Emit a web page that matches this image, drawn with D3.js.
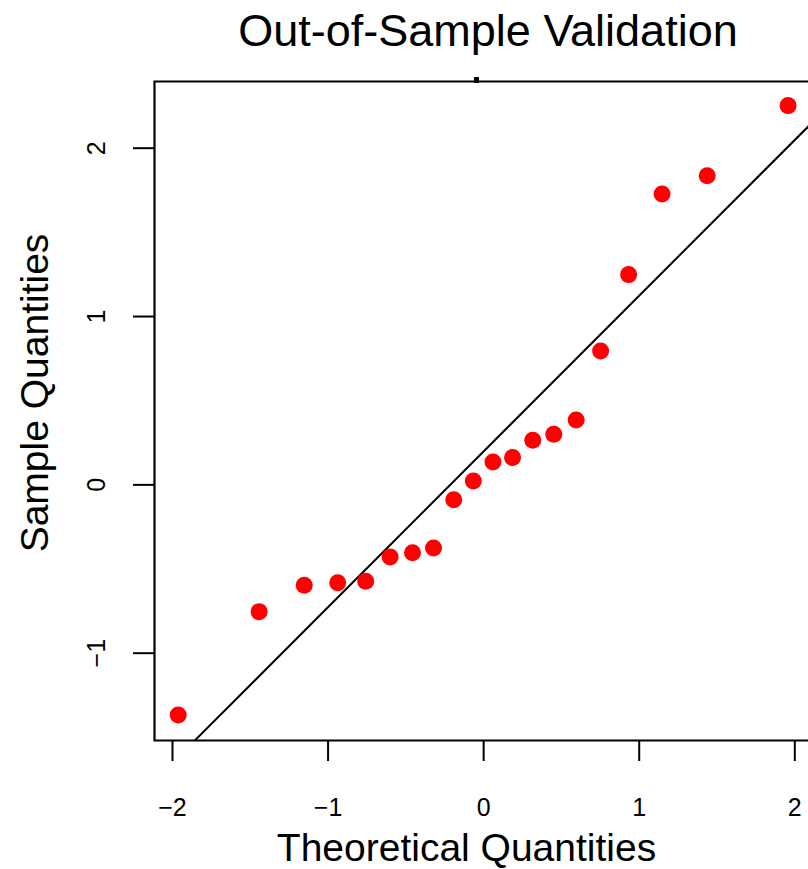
<!DOCTYPE html>
<html>
<head>
<meta charset="utf-8">
<script src="https://cdn.jsdelivr.net/npm/d3@7"></script>
<style>
  body { margin: 0; background: #fff; }
  text { font-family: "Liberation Sans", Arial, Helvetica, sans-serif; fill: #000; }
</style>
</head>
<body>
<svg id="chart" width="808" height="869"></svg>
<script>
// theoretical normal quantiles (n = 20) and the sample values
var theoretical = [-1.960, -1.440, -1.150, -0.935, -0.755, -0.598, -0.454, -0.319, -0.189, -0.063,
                    0.063,  0.189,  0.319,  0.454,  0.598,  0.755,  0.935,  1.150,  1.440,  1.960]
var sample = [-1.370, -0.756, -0.599, -0.584, -0.576, -0.431, -0.406, -0.378, -0.092, 0.020,
               0.133,  0.159,  0.262,  0.298,  0.383,  0.792,  1.246,  1.725,  1.834, 2.250]
var xTicks = [-2, -1, 0, 1, 2]
var yTicks = [-1, 0, 1, 2]
// reference line: mean + sd * x
var lineIntercept = 0.193
var lineSlope = 0.925
var TITLE = "Out-of-Sample Validation"
var X_LABEL = "Theoretical Quantities"
var Y_LABEL = "Sample Quantities"

var svg = d3.select("#chart")
var box = {left: 154.5, top: 81.5, bottom: 740.5, right: 830}

var x = d3.scaleLinear().domain([-2, 2]).range([172, 794.3])
var y = d3.scaleLinear().domain([-1, 2]).range([652.7, 147.7])

svg.append("defs").append("clipPath").attr("id", "plotclip")
    .append("rect")
    .attr("x", box.left).attr("y", box.top)
    .attr("width", box.right - box.left).attr("height", box.bottom - box.top)

// reference line
var x0 = x.invert(box.left), x1 = x.invert(box.right)
svg.append("line")
    .attr("clip-path", "url(#plotclip)")
    .attr("x1", x(x0)).attr("y1", y(lineIntercept + lineSlope * x0))
    .attr("x2", x(x1)).attr("y2", y(lineIntercept + lineSlope * x1))
    .attr("stroke", "#000").attr("stroke-width", 2)

// points
svg.append("g").selectAll("circle")
    .data(d3.zip(theoretical, sample))
    .join("circle")
    .attr("cx", d => x(d[0]))
    .attr("cy", d => y(d[1]))
    .attr("r", 8.5)
    .attr("fill", "#ff0000")

// box (open on the right, it runs off the picture)
svg.append("path")
    .attr("d", "M" + box.right + "," + box.top + "H" + box.left + "V" + box.bottom + "H" + box.right)
    .attr("fill", "none").attr("stroke", "#000").attr("stroke-width", 2.2)

// little mark on the top border
svg.append("rect").attr("x", 474).attr("y", 77).attr("width", 5).attr("height", 6).attr("fill", "#000")

// x axis
var xAxis = svg.append("g").attr("transform", "translate(0," + box.bottom + ")")
    .call(d3.axisBottom(x).tickValues(xTicks).tickSize(20.5).tickPadding(0).tickFormat(d3.format("d")))
xAxis.select(".domain").remove()
xAxis.selectAll(".tick line").attr("stroke-width", 2)
xAxis.selectAll(".tick text")
    .attr("y", 75).attr("dy", 0)
    .style("font-size", "25px")
    .style("font-family", "'Liberation Sans', Arial, sans-serif")

// y axis
var yAxis = svg.append("g").attr("transform", "translate(" + box.left + ",0)")
    .call(d3.axisLeft(y).tickValues(yTicks).tickSize(21.5).tickFormat(d3.format("d")))
yAxis.select(".domain").remove()
yAxis.selectAll(".tick line").attr("stroke-width", 2)
yAxis.selectAll(".tick text")
    .attr("x", null).attr("dy", 0)
    .attr("text-anchor", "middle")
    .attr("transform", "translate(" + (105 - box.left) + ",0) rotate(-90)")
    .style("font-size", "25px")
    .style("font-family", "'Liberation Sans', Arial, sans-serif")

// titles
svg.append("text")
    .attr("x", 488).attr("y", 46)
    .attr("text-anchor", "middle")
    .style("font-size", "45px")
    .text(TITLE)

svg.append("text")
    .attr("x", 466.5).attr("y", 861)
    .attr("text-anchor", "middle")
    .style("font-size", "39px")
    .text(X_LABEL)

svg.append("text")
    .attr("transform", "translate(48,393) rotate(-90)")
    .attr("text-anchor", "middle")
    .style("font-size", "39px")
    .text(Y_LABEL)
</script>
</body>
</html>
